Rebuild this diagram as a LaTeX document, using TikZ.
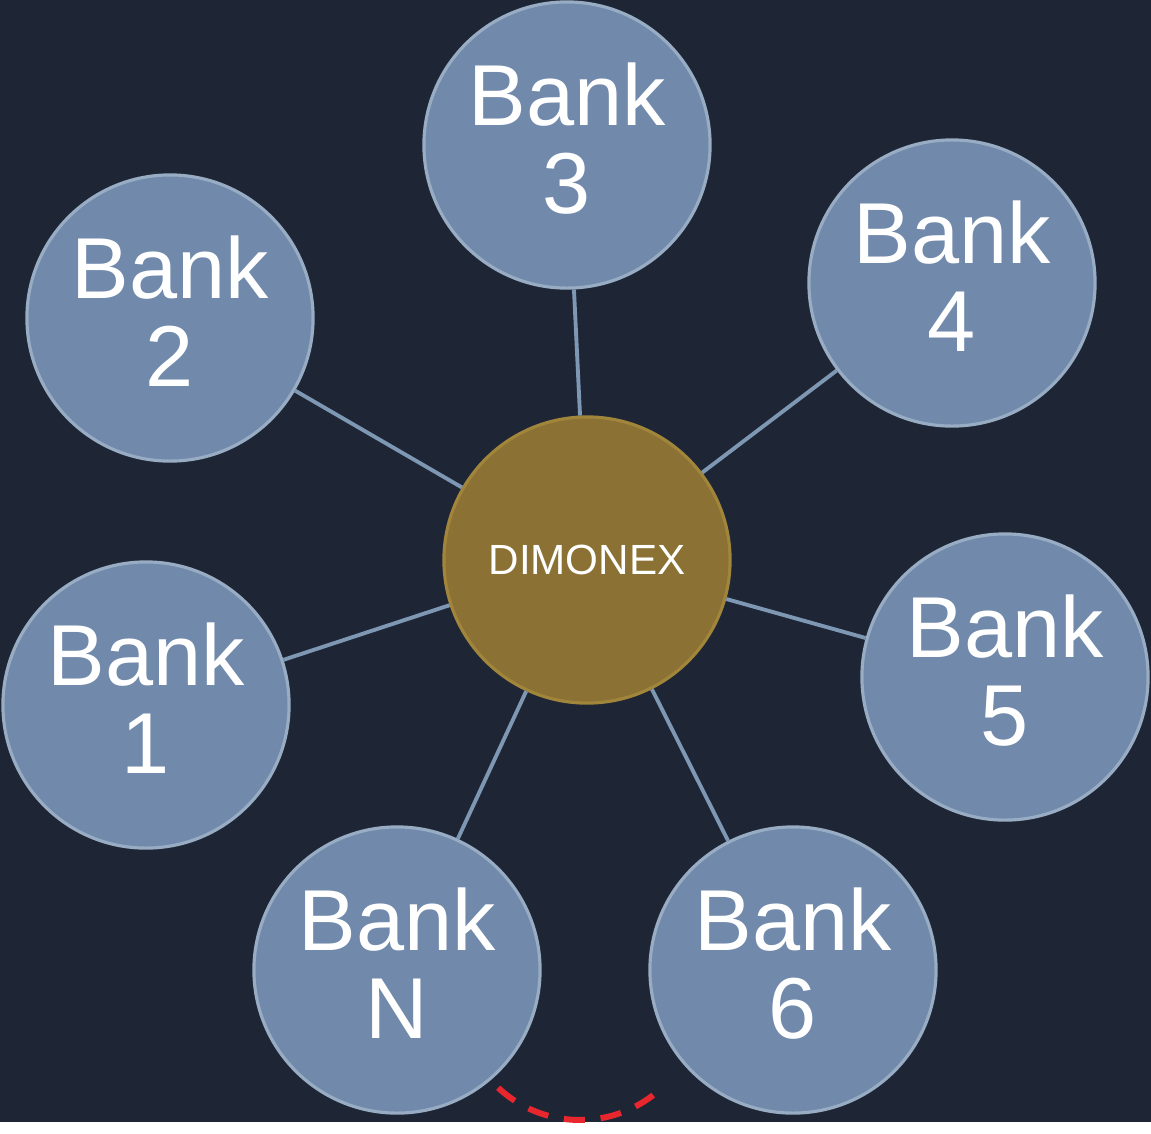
\documentclass[tikz,border=0pt]{standalone}
\usepackage{fontspec}
\setmainfont{Liberation Sans}
\definecolor{bgdark}{HTML}{1E2636}
\definecolor{bankblue}{HTML}{7189AB}
\definecolor{bankrim}{HTML}{98ACC3}
\definecolor{hubgold}{HTML}{8B7133}
\definecolor{hubrim}{HTML}{A0853A}
\definecolor{linkblue}{HTML}{7E97B3}
\definecolor{gapred}{HTML}{E8262E}
\begin{document}
\begin{tikzpicture}
  [x=0.01cm,y=-0.01cm,every node/.style={circle,fill=bankblue,draw=bankrim,line width=0.9pt,minimum size=2.86cm,inner sep=0pt,align=center,text=white}]
  \tikzstyle{bank} = [font=\fontsize{24.6}{25}\selectfont,text depth=0.14cm]
  \tikzstyle{hub} = [fill=hubgold,draw=hubrim,font=\fontsize{12}{14}\selectfont]
  \tikzstyle{link} = [draw=linkblue,line width=1.1pt]
  \fill[bgdark] (0,0) rectangle (1151,1122);
  \node[hub] (c) at (587,560) {DIMONEX};
  \node[bank] (b1) at (146,705) {Bank\\1};
  \node[bank] (b2) at (170,318) {Bank\\2};
  \node[bank] (b3) at (567,145) {Bank\\3};
  \node[bank] (b4) at (952,283) {Bank\\4};
  \node[bank] (b5) at (1005,677) {Bank\\5};
  \node[bank] (b6) at (793,970) {Bank\\6};
  \node[bank] (bN) at (397,970) {Bank\\N};
\foreach \dest in {b1,b2,b3,b4,b5,b6,bN}
   \draw[link] (c) -- (\dest);
  \coordinate (gap) at (580,1000);
  \draw[gapred,line width=1.7pt,dash pattern=on 6pt off 4.5pt] (gap) ++(133:120) arc[start angle=133,end angle=50,radius=120];

\end{tikzpicture}
\end{document}
